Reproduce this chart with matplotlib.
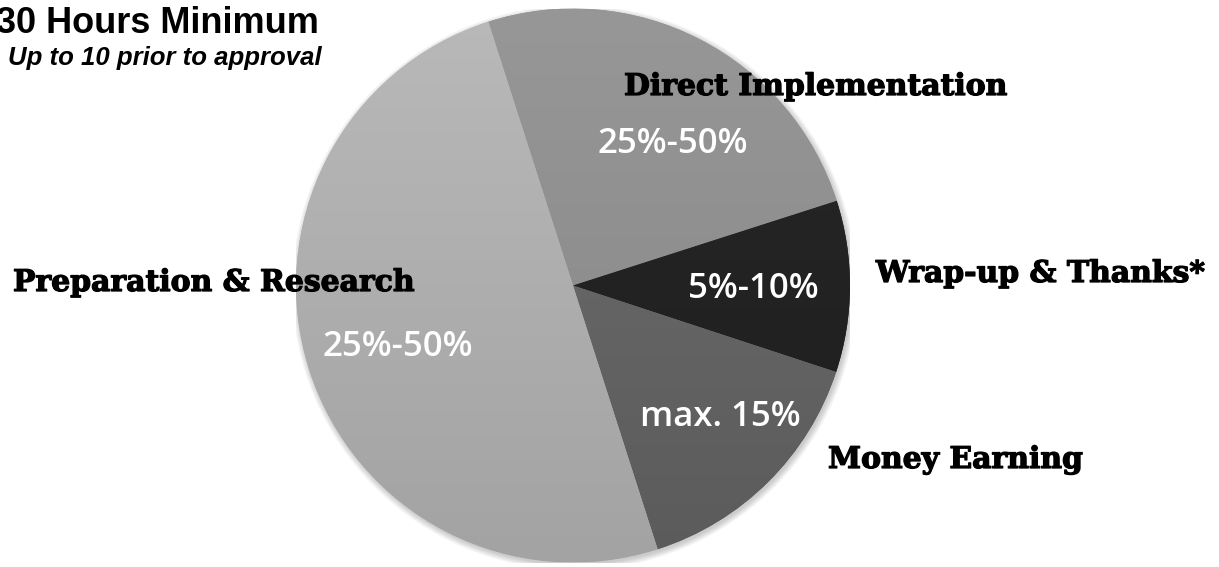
import numpy as np
import matplotlib.pyplot as plt
import matplotlib.patheffects as pe
from matplotlib.colors import LinearSegmentedColormap
from matplotlib.patches import Circle

# segments, clockwise from the top-left boundary
categories = ["Direct Implementation", "Wrap-up & Thanks*", "Money Earning", "Preparation & Research"]
shares = [25, 10, 15, 50]
value_labels = ["25%-50%", "5%-10%", "max. 15%", "25%-50%"]
top_colors = ["#979797", "#282828", "#6e6e6e", "#b9b9b9"]
bottom_colors = ["#868686", "#1d1d1d", "#5b5b5b", "#a3a3a3"]

title = "30 Hours Minimum"
subtitle = "Up to 10 prior to approval"

W, H = 1219, 567
fig = plt.figure(figsize=(W / 100, H / 100), dpi=100)

cx, cy, r = 573, 285.5, 277
ax = fig.add_axes([(cx - r) / W, 1 - (cy + r) / H, 2 * r / W, 2 * r / H])

# soft shadow round the pie
for k in range(6):
    ax.add_patch(Circle((0.006, -0.008), 1.0 + 0.004 * k, color="black",
                        alpha=0.035, lw=0, zorder=0))

wedges, _ = ax.pie(shares, startangle=107.8, counterclock=False,
                   colors=top_colors, radius=1.0,
                   wedgeprops=dict(linewidth=0, zorder=1))

# vertical gradient in each slice
grad = np.linspace(0, 1, 256).reshape(-1, 1)
for w, c1, c2 in zip(wedges, top_colors, bottom_colors):
    cmap = LinearSegmentedColormap.from_list("g", [c1, c2])
    im = ax.imshow(grad, cmap=cmap, extent=(-1, 1, -1, 1), origin="upper",
                   aspect="auto", zorder=2)
    im.set_clip_path(w)

ax.set_xlim(-1.0, 1.0)
ax.set_ylim(-1.0, 1.0)
ax.axis("off")


def px(x, y):
    return x / W, 1 - y / H


heavy = [pe.withStroke(linewidth=0.9, foreground="black")]
slab = dict(family="DejaVu Serif", fontweight="bold", fontsize=21.5, color="black",
            path_effects=heavy)
label_pos = [(624, 95), (876, 282), (828, 468), (13, 291)]
for name, (x, y) in zip(categories, label_pos):
    fig.text(*px(x, y), name, ha="left", va="baseline", zorder=5, **slab)

num = dict(family="Open Sans", fontsize=25, fontweight="semibold", color="white")
num_pos = [(673, 153), (753, 298), (720, 426), (398, 356)]
for lab, (x, y) in zip(value_labels, num_pos):
    fig.text(*px(x, y), lab, ha="center", va="baseline", zorder=5, **num)

fig.text(*px(319, 33), title, ha="right", va="baseline",
         family="Liberation Sans", fontweight="bold", fontsize=26)
fig.text(*px(322, 65), subtitle, ha="right", va="baseline",
         family="Liberation Sans", fontweight="bold", style="italic", fontsize=18.5)

fig.savefig("out.png", dpi=100, facecolor="white")
